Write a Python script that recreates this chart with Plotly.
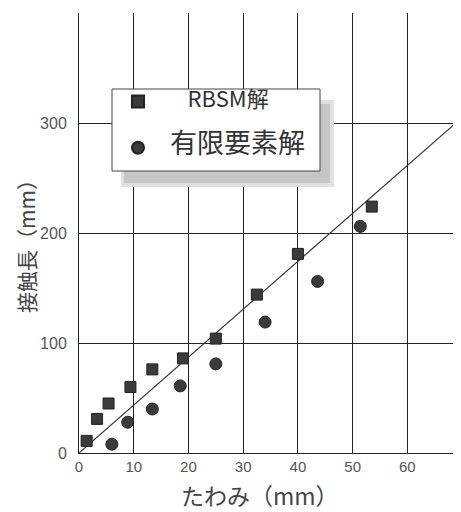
import plotly.graph_objects as go

# Data
rbsm_x = [1.4, 3.3, 5.4, 9.4, 13.4, 19.0, 25.0, 32.5, 40.0, 53.5]
rbsm_y = [11, 31, 45, 60, 76, 86, 104, 144, 181, 224]
fem_x = [6.0, 8.9, 13.4, 18.5, 25.0, 34.0, 43.6, 51.4]
fem_y = [8, 28, 40, 61, 81, 119, 156, 206]
fit_x = [0, 70]
fit_y = [0, 305]

x_ticks = [0, 10, 20, 30, 40, 50, 60]
y_ticks = [0, 100, 200, 300]

x_title = "たわみ（mm）"
y_title = "接触長（mm）"

FONT = "Liberation Sans, Arial, Noto Sans CJK JP, sans-serif"
JFONT = "Noto Sans CJK JP, sans-serif"
NB = "\u00a0"

# page body has an 8px margin, so the figure is offset by 8px
PW, PH = 382, 440  # plot area size in px
X0, Y0 = 79, 453   # plot origin in window px


def px(x):
    return (x - X0) / PW


def py(y):
    return (Y0 - y) / PH


fig = go.Figure()
fig.add_trace(go.Scatter(x=fit_x, y=fit_y, mode="lines",
                         line=dict(color="#333333", width=1.2), showlegend=False))
fig.add_trace(go.Scatter(
    x=rbsm_x, y=rbsm_y, mode="markers", legendgroup="a",
    name="<span style='font-size:22px'>" + NB * 6 + "RBSM解</span>",
    marker=dict(symbol="square", size=11, color="#3a3a3a",
                line=dict(color="#222222", width=1))))
fig.add_trace(go.Scatter(
    x=fem_x, y=fem_y, mode="markers", legendgroup="b",
    name="<span style='font-size:27px'>" + NB * 2 + "有限要素解</span>",
    marker=dict(symbol="circle", size=12, color="#3a3a3a",
                line=dict(color="#222222", width=1))))

# legend shadow (soft) and legend box
fig.add_shape(type="rect", xref="paper", yref="paper",
              x0=px(121), x1=px(334), y0=py(187), y1=py(100),
              fillcolor="#e0e0e0", line=dict(width=0), layer="above")
fig.add_shape(type="rect", xref="paper", yref="paper",
              x0=px(124), x1=px(330), y0=py(183), y1=py(104),
              fillcolor="#c6c6c6", line=dict(width=0), layer="above")
fig.add_shape(type="rect", xref="paper", yref="paper",
              x0=px(112), x1=px(320), y0=py(171), y1=py(89),
              fillcolor="white", line=dict(width=1, color="#444444"), layer="above")

# axis titles
fig.add_annotation(text=x_title, xref="paper", yref="paper", x=px(260), y=py(495),
                   xanchor="center", yanchor="middle", showarrow=False,
                   font=dict(family=JFONT, size=23, color="#444444"))
fig.add_annotation(text=y_title, xref="paper", yref="paper", x=px(26), y=py(241),
                   xanchor="center", yanchor="middle", showarrow=False, textangle=-90,
                   font=dict(family=JFONT, size=21, color="#444444"))

fig.update_layout(
    width=453, height=504,
    margin=dict(l=71, r=0, t=5, b=59),
    paper_bgcolor="white", plot_bgcolor="white",
    font=dict(family=FONT, color="#444444", size=15),
    legend=dict(x=px(118), y=py(86), xanchor="left", yanchor="top",
                bgcolor="rgba(0,0,0,0)", borderwidth=0,
                font=dict(family=JFONT, size=14, color="#333333"),
                itemsizing="constant", tracegroupgap=25),
    xaxis=dict(range=[0, 69.8], tickvals=x_ticks, showgrid=True, gridcolor="#222222",
               gridwidth=1, zeroline=False, showline=True, linecolor="#222222",
               linewidth=1, ticks="", tickfont=dict(size=15, color="#555555"),
               automargin=False),
    yaxis=dict(range=[0, 400], tickvals=y_ticks, showgrid=True, gridcolor="#222222",
               gridwidth=1, zeroline=False, showline=True, linecolor="#222222",
               linewidth=1, mirror=True, ticks="", tickfont=dict(size=16, color="#555555"),
               ticklabelstandoff=8, automargin=False),
)

fig.write_html("out.html")
